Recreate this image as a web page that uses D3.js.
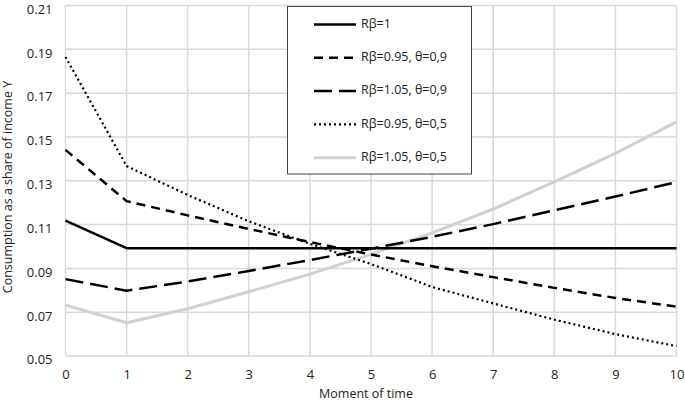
<!DOCTYPE html>
<html><head><meta charset="utf-8">
<script src="https://cdn.jsdelivr.net/npm/d3@7"></script>
<style>body{margin:0;background:#fff}svg text{font-family:"Open Sans",sans-serif;fill:#222}</style>
</head><body><svg id="c" width="685" height="404"></svg>
<script>
const moments = [0,1,2,3,4,5,6,7,8,9,10];
const seriesNames = ["Rβ=1","Rβ=0.95, θ=0,9","Rβ=1.05, θ=0,9","Rβ=0.95, θ=0,5","Rβ=1.05, θ=0,5"];
const sRb1     = [0.1118,0.0992,0.0992,0.0992,0.0992,0.0992,0.0992,0.0992,0.0992,0.0992,0.0992];
const sRb095t9 = [0.1441,0.1207,0.1142,0.1080,0.1020,0.0963,0.0910,0.0860,0.0811,0.0765,0.0725];
const sRb105t9 = [0.0851,0.0798,0.0840,0.0888,0.0938,0.0990,0.1044,0.1102,0.1165,0.1228,0.1294];
const sRb095t5 = [0.1865,0.1367,0.1235,0.1115,0.1012,0.0920,0.0815,0.0740,0.0666,0.0600,0.0545];
const sRb105t5 = [0.0732,0.0652,0.0716,0.0793,0.0874,0.0964,0.1062,0.1171,0.1295,0.1425,0.1569];
const yTicks = [0.05,0.07,0.09,0.11,0.13,0.15,0.17,0.19,0.21];

const seriesVals = [sRb1,sRb095t9,sRb105t9,sRb095t5,sRb105t5];
const styles = [
  {stroke:"#000", w:2.5, dash:null},
  {stroke:"#000", w:2.5, dash:"9,6"},
  {stroke:"#000", w:2.5, dash:"18,7"},
  {stroke:"#000", w:2.2, dash:"2,3"},
  {stroke:"#d0d0d0", w:3, dash:null}
];

const svg = d3.select("#c");
const x = d3.scaleLinear().domain([0,10]).range([65.5,676.5]);
const y = d3.scaleLinear().domain([0.05,0.21]).range([356,5.5]);

// grid
const g = svg.append("g");
g.selectAll("line.h").data(yTicks).join("line")
  .attr("x1",x(0)).attr("x2",x(10)).attr("y1",d=>y(d)).attr("y2",d=>y(d))
  .attr("stroke","#d9d9d9").attr("stroke-width",1.5);
g.selectAll("line.v").data(moments).join("line")
  .attr("y1",y(0.05)).attr("y2",y(0.21)).attr("x1",d=>x(d)).attr("x2",d=>x(d))
  .attr("stroke","#d9d9d9").attr("stroke-width",1.5);

// axes
const ax = svg.append("g").attr("transform",`translate(0,${y(0.05)})`)
  .call(d3.axisBottom(x).tickValues(moments).tickFormat(d3.format("d")).tickSize(0).tickPadding(14));
ax.select(".domain").remove();
ax.selectAll("text").style("font-size","13px").attr("fill","#222");
const ay = svg.append("g").attr("transform",`translate(${x(0)},0)`)
  .call(d3.axisLeft(y).tickValues(yTicks).tickFormat(d3.format(".2f")).tickSize(0).tickPadding(13));
ay.select(".domain").remove();
ay.selectAll("text").style("font-size","13px").attr("fill","#222").attr("dy","0.6em");

svg.append("text").attr("x",366).attr("y",398).attr("text-anchor","middle")
  .style("font-size","12.5px").text("Moment of time");
svg.append("text").attr("transform",`translate(9,187) rotate(-90)`)
  .attr("text-anchor","middle").attr("dominant-baseline","middle")
  .style("font-size","12.5px").text("Consumption as a share of income Y");

// lines
const line = d3.line().x((d,i)=>x(moments[i])).y(d=>y(d));
const order = [4,0,2,1,3];
order.forEach(k=>{
  const st = styles[k];
  svg.append("path").datum(seriesVals[k]).attr("d",line)
    .attr("fill","none").attr("stroke",st.stroke).attr("stroke-width",st.w)
    .attr("stroke-dasharray",st.dash).attr("stroke-linejoin","round");
});

// legend
const lg = svg.append("g");
lg.append("rect").attr("x",287.5).attr("y",6.5).attr("width",184).attr("height",167.5)
  .attr("fill","#fff").attr("stroke","#444").attr("stroke-width",1);
seriesNames.forEach((n,i)=>{
  const yy = 24.5 + i*33.3;
  const st = styles[i];
  lg.append("line").attr("x1",314).attr("x2",356).attr("y1",yy).attr("y2",yy)
    .attr("stroke",st.stroke).attr("stroke-width",st.w).attr("stroke-dasharray",st.dash);
  lg.append("text").attr("x",361).attr("y",yy).attr("dominant-baseline","middle")
    .style("font-size","12.5px").text(n);
});
</script></body></html>
